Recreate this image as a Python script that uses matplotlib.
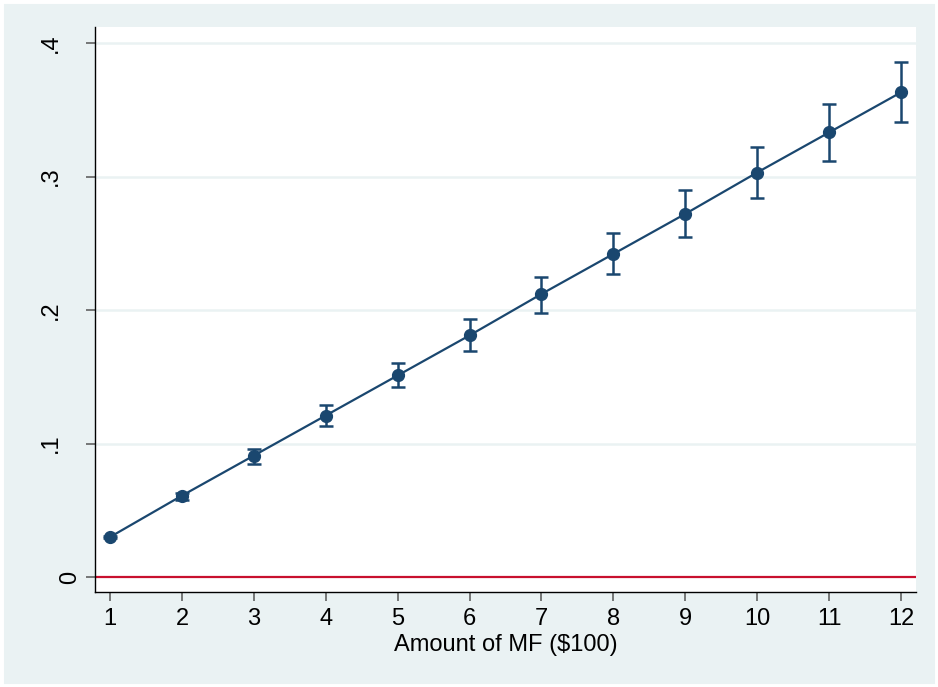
import matplotlib.pyplot as plt
import matplotlib.patches as mpatches
import matplotlib.transforms as mtransforms
import numpy as np

# Data
amount = [1, 2, 3, 4, 5, 6, 7, 8, 9, 10, 11, 12]
effect = [0.030, 0.061, 0.091, 0.121, 0.151, 0.181, 0.212, 0.242, 0.272, 0.303, 0.333, 0.363]
ci_low = [0.029, 0.058, 0.085, 0.113, 0.142, 0.169, 0.198, 0.227, 0.255, 0.284, 0.312, 0.341]
ci_high = [0.031, 0.063, 0.096, 0.129, 0.160, 0.193, 0.225, 0.258, 0.290, 0.322, 0.354, 0.386]
yticks = [0, 0.1, 0.2, 0.3, 0.4]
yticklabels = ["0", ".1", ".2", ".3", ".4"]

plt.rcParams['font.family'] = ['Liberation Sans', 'DejaVu Sans']

navy = '#1a476f'
bg = '#eaf2f3'

fig = plt.figure(figsize=(9.38, 6.87), dpi=100, facecolor=bg)
# thin white border round the outer band
fig.add_artist(mpatches.Rectangle((0, 0), 1, 1, transform=fig.transFigure,
                                  fill=False, edgecolor='white', lw=5, zorder=10))
ax = fig.add_axes([95 / 938, 1 - 592 / 687, (916 - 95) / 938, (592 - 27) / 687])
ax.set_facecolor('white')

eff = np.array(effect)
yerr = [eff - np.array(ci_low), np.array(ci_high) - eff]
ax.errorbar(amount, effect, yerr=yerr, fmt='o-', color=navy, ms=8.5, lw=1.6,
            elinewidth=1.8, capsize=5, capthick=1.8, zorder=3)
ax.axhline(0, color='#c8102e', lw=1.6, zorder=2)

ax.set_xlim(0.79, 12.21)
ax.set_ylim(-0.0112, 0.412)
ax.set_xticks(amount)
ax.set_yticks(yticks)
ax.set_yticklabels(yticklabels, rotation=90, va='center')
for y in yticks[1:]:
    ax.axhline(y, color=bg, lw=1.8, zorder=1)

for s in ['top', 'right']:
    ax.spines[s].set_visible(False)
for s in ['left', 'bottom']:
    ax.spines[s].set_color('black')
    ax.spines[s].set_linewidth(1.0)

ax.tick_params(axis='both', length=6.5, width=1.1, color='#555555',
               labelsize=17, labelcolor='black')
ax.tick_params(axis='x', pad=5)
ax.tick_params(axis='y', pad=17)
# the "0" label sits closer to the axis than the others
zero_lab = ax.yaxis.get_major_ticks()[0].label1
zero_lab.set_transform(zero_lab.get_transform() +
                       mtransforms.ScaledTranslation(0.19, 0, fig.dpi_scale_trans))
ax.set_xlabel('Amount of MF ($100)', fontsize=17, labelpad=3)

fig.savefig('out.png', dpi=100, facecolor=fig.get_facecolor())
